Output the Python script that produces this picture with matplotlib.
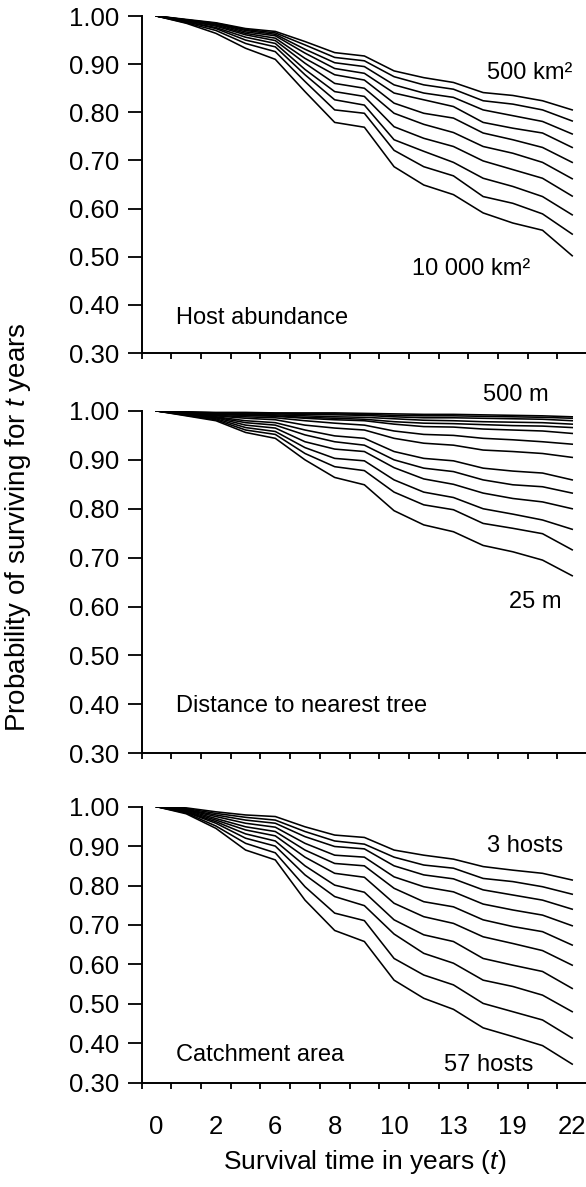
import matplotlib
matplotlib.use('Agg')
import matplotlib.pyplot as plt
import numpy as np

# survival time steps (15 steps, every other one labelled)
time_labels = ['0', '2', '6', '8', '10', '13', '19', '22']
n_steps = 15

# Host abundance: 500 km2 (top) -> 10 000 km2 (bottom)
host_abundance = [
    [1.000, 0.993, 0.986, 0.974, 0.968, 0.947, 0.924, 0.917, 0.886, 0.872, 0.862, 0.841, 0.835, 0.824, 0.805],
    [1.000, 0.992, 0.985, 0.972, 0.965, 0.940, 0.914, 0.907, 0.874, 0.857, 0.848, 0.824, 0.817, 0.805, 0.782],
    [1.000, 0.992, 0.984, 0.970, 0.962, 0.931, 0.903, 0.895, 0.857, 0.840, 0.831, 0.805, 0.793, 0.781, 0.755],
    [1.000, 0.991, 0.983, 0.967, 0.959, 0.923, 0.891, 0.881, 0.840, 0.826, 0.812, 0.779, 0.767, 0.757, 0.727],
    [1.000, 0.990, 0.981, 0.964, 0.954, 0.912, 0.878, 0.867, 0.819, 0.798, 0.788, 0.757, 0.743, 0.727, 0.696],
    [1.000, 0.990, 0.979, 0.961, 0.949, 0.902, 0.860, 0.850, 0.798, 0.775, 0.758, 0.729, 0.715, 0.696, 0.662],
    [1.000, 0.988, 0.976, 0.956, 0.943, 0.889, 0.843, 0.833, 0.770, 0.746, 0.729, 0.699, 0.681, 0.663, 0.626],
    [1.000, 0.988, 0.974, 0.950, 0.936, 0.878, 0.826, 0.815, 0.743, 0.719, 0.696, 0.663, 0.646, 0.625, 0.587],
    [1.000, 0.986, 0.970, 0.943, 0.926, 0.864, 0.805, 0.798, 0.721, 0.687, 0.668, 0.625, 0.611, 0.589, 0.547],
    [1.000, 0.985, 0.964, 0.933, 0.910, 0.843, 0.779, 0.769, 0.687, 0.649, 0.629, 0.591, 0.570, 0.555, 0.502],
]

# Distance to nearest tree: 500 m (top) -> 25 m (bottom)
distance_tree = [
    [1.000, 0.998, 0.997, 0.997, 0.996, 0.996, 0.996, 0.995, 0.994, 0.993, 0.993, 0.992, 0.991, 0.990, 0.988],
    [1.000, 0.998, 0.996, 0.996, 0.995, 0.994, 0.994, 0.993, 0.991, 0.990, 0.990, 0.989, 0.988, 0.987, 0.985],
    [1.000, 0.997, 0.995, 0.994, 0.994, 0.993, 0.992, 0.991, 0.988, 0.986, 0.986, 0.985, 0.984, 0.983, 0.980],
    [1.000, 0.997, 0.994, 0.993, 0.992, 0.990, 0.988, 0.987, 0.984, 0.981, 0.980, 0.978, 0.977, 0.976, 0.973],
    [1.000, 0.996, 0.993, 0.991, 0.990, 0.987, 0.985, 0.983, 0.978, 0.975, 0.974, 0.972, 0.970, 0.969, 0.966],
    [1.000, 0.996, 0.993, 0.991, 0.989, 0.985, 0.982, 0.980, 0.973, 0.968, 0.967, 0.963, 0.961, 0.959, 0.954],
    [1.000, 0.995, 0.991, 0.988, 0.986, 0.980, 0.975, 0.971, 0.959, 0.952, 0.950, 0.944, 0.941, 0.937, 0.932],
    [1.000, 0.995, 0.990, 0.985, 0.982, 0.971, 0.965, 0.961, 0.944, 0.934, 0.930, 0.920, 0.917, 0.913, 0.905],
    [1.000, 0.994, 0.988, 0.980, 0.976, 0.961, 0.949, 0.944, 0.917, 0.903, 0.898, 0.883, 0.877, 0.873, 0.859],
    [1.000, 0.993, 0.987, 0.976, 0.971, 0.951, 0.937, 0.930, 0.900, 0.883, 0.876, 0.859, 0.849, 0.845, 0.832],
    [1.000, 0.993, 0.986, 0.971, 0.965, 0.937, 0.922, 0.917, 0.884, 0.861, 0.850, 0.832, 0.821, 0.814, 0.800],
    [1.000, 0.992, 0.984, 0.966, 0.958, 0.925, 0.903, 0.898, 0.859, 0.834, 0.823, 0.800, 0.789, 0.777, 0.758],
    [1.000, 0.991, 0.982, 0.961, 0.952, 0.913, 0.886, 0.878, 0.834, 0.808, 0.798, 0.770, 0.760, 0.749, 0.716],
    [1.000, 0.990, 0.980, 0.956, 0.944, 0.900, 0.864, 0.849, 0.796, 0.767, 0.753, 0.725, 0.712, 0.695, 0.663],
]

# Catchment area: 3 hosts (top) -> 57 hosts (bottom)
catchment = [
    [1.000, 0.997, 0.987, 0.979, 0.975, 0.949, 0.928, 0.922, 0.890, 0.877, 0.867, 0.848, 0.839, 0.831, 0.814],
    [1.000, 0.995, 0.983, 0.973, 0.966, 0.937, 0.913, 0.905, 0.872, 0.852, 0.844, 0.818, 0.810, 0.797, 0.778],
    [1.000, 0.993, 0.979, 0.966, 0.958, 0.924, 0.899, 0.893, 0.850, 0.827, 0.817, 0.789, 0.776, 0.763, 0.740],
    [1.000, 0.992, 0.975, 0.958, 0.948, 0.907, 0.877, 0.872, 0.822, 0.797, 0.784, 0.753, 0.738, 0.725, 0.698],
    [1.000, 0.991, 0.970, 0.949, 0.937, 0.890, 0.856, 0.850, 0.793, 0.759, 0.746, 0.713, 0.696, 0.683, 0.649],
    [1.000, 0.989, 0.966, 0.941, 0.926, 0.872, 0.831, 0.821, 0.755, 0.721, 0.704, 0.670, 0.653, 0.635, 0.598],
    [1.000, 0.987, 0.962, 0.931, 0.913, 0.850, 0.801, 0.783, 0.713, 0.675, 0.658, 0.615, 0.598, 0.582, 0.539],
    [1.000, 0.986, 0.958, 0.920, 0.900, 0.827, 0.772, 0.749, 0.677, 0.628, 0.603, 0.560, 0.544, 0.522, 0.480],
    [1.000, 0.984, 0.951, 0.907, 0.883, 0.797, 0.730, 0.711, 0.615, 0.573, 0.548, 0.501, 0.480, 0.459, 0.413],
    [1.000, 0.982, 0.945, 0.890, 0.865, 0.763, 0.686, 0.658, 0.560, 0.514, 0.486, 0.439, 0.417, 0.394, 0.347],
]

y_ticks = [0.30, 0.40, 0.50, 0.60, 0.70, 0.80, 0.90, 1.00]


def draw_panel(ax, curves, title, top_label, bottom_label, top_pos, bottom_pos, title_y):
    x = np.arange(n_steps) + 0.5
    for c in curves:
        ax.plot(x, c, color='black', lw=1.15, solid_joinstyle='round')
    ax.set_xlim(0, n_steps)
    ax.set_ylim(0.30, 1.00)
    ax.set_yticks(y_ticks)
    ax.set_yticklabels([f'{t:.2f}' for t in y_ticks])
    ax.set_xticks(np.arange(n_steps + 1))
    ax.set_xticklabels([])
    ax.set_xticks(np.arange(0, n_steps, 2) + 0.5, minor=True)
    ax.tick_params(axis='y', direction='out', length=10, width=1.3, pad=6, labelsize=18.5)
    ax.tick_params(axis='x', which='major', direction='out', length=4.5, width=1.3)
    ax.tick_params(axis='x', which='minor', length=0, pad=23, labelsize=18.5)
    for s in ['top', 'right']:
        ax.spines[s].set_visible(False)
    for s in ['left', 'bottom']:
        ax.spines[s].set_linewidth(1.4)
    ax.text(1.15, title_y, title, fontsize=17, va='center', ha='left')
    ax.text(top_pos[0], top_pos[1], top_label, fontsize=17, va='center', ha='right', clip_on=False)
    ax.text(bottom_pos[0], bottom_pos[1], bottom_label, fontsize=17, va='center', ha='right')


if __name__ == '__main__':
    plt.rcParams.update({
        'font.family': ['Liberation Sans', 'DejaVu Sans'],
        'mathtext.fontset': 'custom',
        'mathtext.rm': 'Liberation Sans',
        'mathtext.it': 'Liberation Sans:italic',
    })
    fig = plt.figure(figsize=(5.86, 11.87), dpi=100)
    left, width = 0.2418, 0.760
    ax1 = fig.add_axes([left, 0.7026, width, 0.9865 - 0.7026])
    ax2 = fig.add_axes([left, 0.3654, width, 0.6538 - 0.3654])
    ax3 = fig.add_axes([left, 0.0879, width, 0.3204 - 0.0879])

    draw_panel(ax1, host_abundance, 'Host abundance', '500 km²', '10 000 km²',
               (14.5, 0.882), (13.1, 0.474), 0.372)
    draw_panel(ax2, distance_tree, 'Distance to nearest tree', '500 m', '25 m',
               (13.7, 1.033), (14.15, 0.610), 0.397)
    draw_panel(ax3, catchment, 'Catchment area', '3 hosts', '57 hosts',
               (14.2, 0.900), (13.2, 0.345), 0.370)

    ax3.set_xticklabels(time_labels, minor=True)
    ax3.set_xlabel(r'Survival time in years ($\mathit{t}$)', fontsize=19, labelpad=7)
    fig.text(0.031, 0.556, r'Probability of surviving for $\mathit{t}$ years',
             rotation=90, fontsize=20, va='center', ha='center')

    fig.savefig('out.png', dpi=100)
